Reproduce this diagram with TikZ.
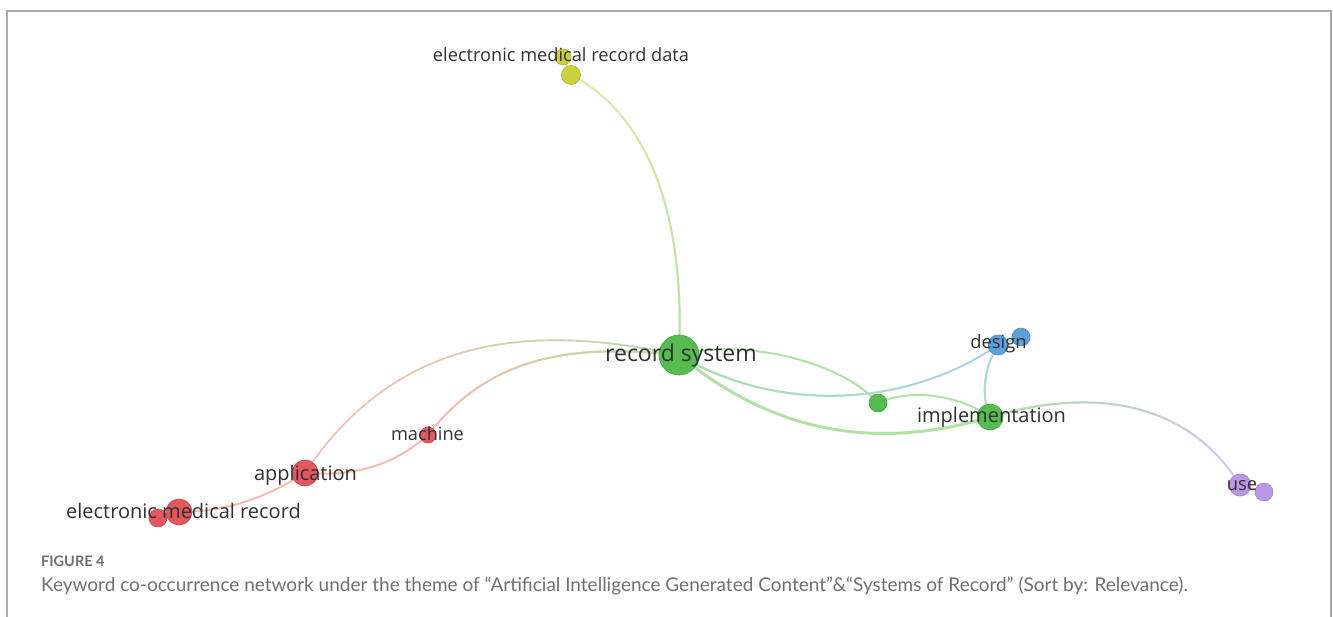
\documentclass[tikz,border=0pt]{standalone}
\usepackage{fontspec}
\setmainfont{Open Sans}
\newfontfamily\capfont{Lato}
\usetikzlibrary{fadings,backgrounds}

% node colours
\definecolor{ngreen}{RGB}{86,188,80}
\definecolor{nred}{RGB}{226,88,94}
\definecolor{nblue}{RGB}{92,160,220}
\definecolor{nyellow}{RGB}{204,208,62}
\definecolor{npurple}{RGB}{186,152,230}
% link colours
\definecolor{egreen}{RGB}{176,226,164}
\definecolor{ered}{RGB}{246,188,180}
\definecolor{eyellow}{RGB}{226,233,168}
\definecolor{eblue}{RGB}{170,211,236}
\definecolor{epurple}{RGB}{210,198,240}
% text colours
\definecolor{labgray}{RGB}{48,48,48}
\definecolor{capgray}{RGB}{112,112,112}
\definecolor{framegray}{RGB}{170,170,170}

% fadings used to blend two link colours
\tikzfading[name=opaqueright, left color=transparent!100, right color=transparent!0]
\tikzfading[name=opaqueleft, left color=transparent!0, right color=transparent!100]
\tikzfading[name=opaquebottom, top color=transparent!100, bottom color=transparent!0]

% link blending colour #2 (base) into colour #3 (overlay faded by #4)
\newcommand\blendlink[5]{%
  \draw[#1,#2] #5;
  \draw[#1,#3,path fading=#4] #5;}

\tikzset{
  bub/.style={circle, inner sep=0pt, minimum size=#1},
  gbub/.style={bub=#1, fill=ngreen, draw=ngreen!85!black, line width=0.6},
  rbub/.style={bub=#1, fill=nred, draw=nred!85!black, line width=0.6},
  bbub/.style={bub=#1, fill=nblue, draw=nblue!85!black, line width=0.6},
  ybub/.style={bub=#1, fill=nyellow, draw=nyellow!85!black, line width=0.6},
  pbub/.style={bub=#1, fill=npurple, draw=npurple!85!black, line width=0.6},
  lab/.style={text=labgray, inner sep=0pt, anchor=base, font=\fontsize{#1}{#1}\selectfont},
  link/.style={line width=2},
}

\begin{document}
\begin{tikzpicture}[x=1pt, y={(0,-1pt)}]
\useasboundingbox (0,0) rectangle (1333,617);

% frame
\draw[framegray, line width=2] (7,617) -- (7,11) -- (1331,11) -- (1331,617);

% keyword bubbles
\node[ybub=16] (emrd1) at (563,57) {};
\node[ybub=19] (emrd) at (571,75) {};
\node[gbub=40] (rs) at (679,355) {};
\node[gbub=18] (g2) at (878,403) {};
\node[gbub=26] (impl) at (990,417) {};
\node[bbub=20] (des) at (998,345) {};
\node[bbub=18] (des2) at (1021,337) {};
\node[pbub=22] (use) at (1240,485) {};
\node[pbub=18] (use2) at (1264,492) {};
\node[rbub=16] (mach) at (428,435) {};
\node[rbub=26] (app) at (305,473) {};
\node[rbub=26] (emr) at (179,512) {};
\node[rbub=18] (emr2) at (158,518) {};

% links
\begin{pgfonlayer}{background}
\blendlink{link}{eyellow}{egreen}{opaquebottom}{(rs.center) .. controls (686,200) and (640,110) .. (emrd.center)}
\blendlink{link,line width=1.6}{ered}{egreen}{opaqueright}{(rs.center) .. controls (540,325) and (400,330) .. (app.center)}
\blendlink{link}{ered}{egreen}{opaqueright}{(rs.center) .. controls (560,342) and (485,362) .. (mach.center)}
\draw[link,ered] (mach.center) .. controls (405,455) and (370,478) .. (app.center);
\draw[link,ered] (app.center) .. controls (270,495) and (230,512) .. (emr.center);
\draw[link,egreen] (rs.center) .. controls (740,338) and (840,360) .. (g2.center);
\blendlink{link}{eblue}{egreen}{opaqueleft}{(rs.center) .. controls (770,410) and (900,412) .. (des.center)}
\draw[link,egreen,line width=3] (rs.center) .. controls (760,422) and (860,456) .. (impl.center);
\draw[link,egreen] (g2.center) .. controls (910,388) and (960,395) .. (impl.center);
\blendlink{link}{eblue}{egreen}{opaquebottom}{(des.center) .. controls (985,365) and (980,395) .. (impl.center)}
\blendlink{link}{epurple}{egreen}{opaqueleft}{(impl.center) .. controls (1100,385) and (1190,405) .. (use.center)}
\draw[link,eyellow] (emrd1.center) -- (emrd.center);
\draw[link,eblue] (des.center) -- (des2.center);
\draw[link,epurple] (use.center) -- (use2.center);
\draw[link,ered] (emr.center) -- (emr2.center);
\end{pgfonlayer}

% labels
\node[lab=23] (rs-l) at (681,362) {record system};
\node[lab=18.2] (emrd-l) at (561,62) {electronic medical record data};
\node[lab=18.4] (des-l) at (998.5,349) {design};
\node[lab=20] (impl-l) at (991.5,422) {implementation};
\node[lab=18.3] (use-l) at (1242,490) {use};
\node[lab=18.2] (mach-l) at (427.5,440) {machine};
\node[lab=20] (app-l) at (305.5,480) {application};
\node[lab=20] (emr-l) at (183.5,518) {electronic medical record};

% caption
\node[anchor=base west, inner sep=0pt, text=capgray, font=\capfont\bfseries\fontsize{14.5}{14.5}\selectfont] (fig) at (41,566) {FIGURE 4};
\node[anchor=base west, inner sep=0pt, text=capgray, font=\capfont\fontsize{19}{19}\selectfont] (cap) at (41,591) {Keyword co-occurrence network under the theme of “Artificial Intelligence Generated Content”\&“Systems of Record” (Sort by: Relevance).};
\end{tikzpicture}
\end{document}
